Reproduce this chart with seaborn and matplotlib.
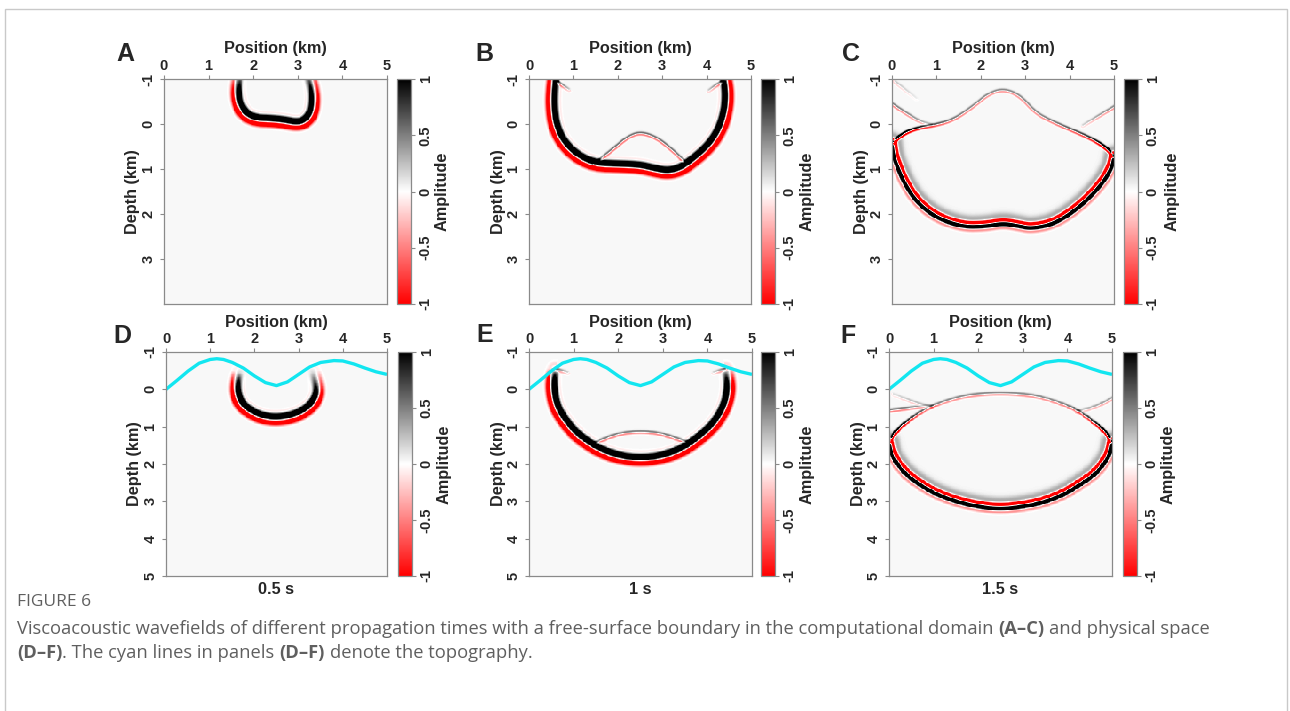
import numpy as np
import matplotlib
matplotlib.use("Agg")
import matplotlib.pyplot as plt
import seaborn as sns
from matplotlib.colors import LinearSegmentedColormap
from matplotlib.patches import Rectangle

# ------------------------------------------------------------------ data
POSITION_TICKS = [0, 1, 2, 3, 4, 5]
DEPTH_TICKS_TOP = [-1, 0, 1, 2, 3]
DEPTH_TICKS_BOTTOM = [-1, 0, 1, 2, 3, 4, 5]
CBAR_TICKS = [-1, -0.5, 0, 0.5, 1]
CBAR_LABELS = ["-1", "-0.5", "0", "0.5", "1"]
PANEL_LETTERS = ["A", "B", "C", "D", "E", "F"]
TIME_LABELS = ["0.5 s", "1 s", "1.5 s"]
BACKGROUND_AMP = 0.03

# topography (cyan line) in physical space
TOPO_X = [0.0, 0.25, 0.5, 0.75, 1.0, 1.15, 1.3, 1.5, 1.75, 2.0, 2.25, 2.5,
          2.75, 3.0, 3.25, 3.5, 3.8, 4.0, 4.25, 4.5, 4.75, 5.0]
TOPO_Z = [0.0, -0.24, -0.49, -0.70, -0.80, -0.82, -0.80, -0.72, -0.57, -0.36,
          -0.18, -0.10, -0.20, -0.40, -0.60, -0.72, -0.77, -0.76, -0.68, -0.57,
          -0.47, -0.40]

# wavefront traces (x km, depth km, relative amplitude)
A_MAIN_X = [1.70, 1.68, 1.69, 1.74, 1.88, 2.10, 2.40, 2.70, 2.95, 3.12, 3.27, 3.31, 3.30, 3.24]
A_MAIN_Z = [-1.00, -0.80, -0.60, -0.40, -0.22, -0.14, -0.13, -0.10, -0.05, -0.08, -0.24, -0.50, -0.75, -1.00]
A_MAIN_W = [0.3, 0.6, 0.9, 1, 1, 1, 1, 1, 1, 1, 1, 0.9, 0.6, 0.3]

B_MAIN_X = [0.60, 0.57, 0.58, 0.62, 0.77, 1.07, 1.48, 2.05, 2.50, 2.80, 3.10, 3.35, 3.56, 4.00, 4.27, 4.40, 4.42, 4.38]
B_MAIN_Z = [-1.00, -0.60, -0.30, 0.00, 0.35, 0.66, 0.86, 0.88, 0.90, 0.97, 1.03, 0.98, 0.86, 0.50, 0.11, -0.32, -0.70, -1.00]
B_MAIN_W = [0.8, 1, 1, 1, 1, 1, 1, 1, 1, 1, 1, 1, 1, 1, 1, 1, 1, 0.8]
B_TENT_X = [1.48, 1.90, 2.20, 2.50, 2.88, 3.25, 3.54]
B_TENT_Z = [0.86, 0.53, 0.28, 0.16, 0.28, 0.57, 0.85]
B_TENT_W = [0.5, 0.55, 0.55, 0.55, 0.55, 0.55, 0.5]
B_CORNER_L_X = [0.63, 0.75, 0.90]
B_CORNER_L_Z = [-0.98, -0.88, -0.78]
B_CORNER_L_W = [0.6, 0.5, 0.2]
B_CORNER_R_X = [4.05, 4.20, 4.36]
B_CORNER_R_Z = [-0.76, -0.87, -0.98]
B_CORNER_R_W = [0.2, 0.45, 0.55]

C_MAIN_X = [0.00, 0.04, 0.13, 0.28, 0.55, 1.00, 1.60, 2.10, 2.50, 2.85, 3.15, 3.70, 4.30, 4.75, 4.95, 5.00]
C_MAIN_Z = [0.42, 0.70, 0.95, 1.30, 1.72, 2.08, 2.28, 2.27, 2.20, 2.26, 2.32, 2.20, 1.78, 1.30, 0.95, 0.72]
C_MAIN_W = [1] * 16
C_UP_X = [0.00, 0.28, 0.65, 1.00, 1.40, 1.85, 2.15, 2.50, 2.88, 3.25, 3.60, 3.90, 4.45, 4.80, 5.00]
C_UP_Z = [0.40, 0.17, 0.05, 0.00, -0.12, -0.43, -0.68, -0.80, -0.66, -0.26, -0.08, 0.05, 0.28, 0.48, 0.70]
C_UP_W = [1.8, 1.3, 0.9, 0.65, 0.5, 0.45, 0.45, 0.45, 0.45, 0.45, 0.5, 0.6, 0.8, 1.2, 1.8]
C_REFL_L_X = [0.00, 0.35, 0.65, 0.90]
C_REFL_L_Z = [-0.47, -0.24, -0.06, 0.00]
C_REFL_L_W = [0.5, 0.45, 0.35, 0.15]
C_REFL_L2_X = [0.08, 0.30, 0.55]
C_REFL_L2_Z = [-0.95, -0.78, -0.58]
C_REFL_L2_W = [0.2, 0.15, 0.05]
C_REFL_R_X = [4.30, 4.61, 5.00]
C_REFL_R_Z = [0.02, -0.17, -0.40]
C_REFL_R_W = [0.15, 0.35, 0.45]

D_MAIN_X = [1.68, 1.64, 1.63, 1.70, 1.83, 2.12, 2.50, 2.92, 3.22, 3.37, 3.40, 3.31]
D_MAIN_Z = [-0.45, -0.25, 0.05, 0.30, 0.48, 0.68, 0.75, 0.66, 0.45, 0.20, -0.05, -0.46]
D_MAIN_W = [0.05, 0.5, 0.95, 1, 1, 1, 1, 1, 1, 0.95, 0.5, 0.05]

E_MAIN_X = [0.60, 0.57, 0.57, 0.62, 0.72, 0.90, 1.10, 1.35, 1.60, 2.00, 2.50, 3.00, 3.40, 3.70, 4.00, 4.20, 4.36, 4.43, 4.44, 4.40]
E_MAIN_Z = [-0.52, -0.30, 0.00, 0.35, 0.62, 0.92, 1.18, 1.40, 1.58, 1.76, 1.83, 1.76, 1.58, 1.35, 1.05, 0.78, 0.43, 0.10, -0.20, -0.52]
E_MAIN_W = [0.1, 0.7, 1, 1, 1, 1, 1, 1, 1, 1, 1, 1, 1, 1, 1, 1, 1, 1, 0.7, 0.1]
E_ARC_X = [1.48, 1.80, 2.10, 2.50, 2.90, 3.20, 3.54]
E_ARC_Z = [1.41, 1.25, 1.15, 1.11, 1.15, 1.25, 1.39]
E_ARC_W = [0.5, 0.5, 0.5, 0.5, 0.5, 0.5, 0.5]
E_CORNER_L_X = [0.58, 0.72, 0.87]
E_CORNER_L_Z = [-0.55, -0.52, -0.46]
E_CORNER_L_W = [0.45, 0.4, 0.15]
E_CORNER_R_X = [4.14, 4.28, 4.40]
E_CORNER_R_Z = [-0.46, -0.52, -0.55]
E_CORNER_R_W = [0.15, 0.4, 0.45]

F_MAIN_X = [0.00, 0.05, 0.17, 0.40, 0.76, 1.10, 1.52, 2.00, 2.49, 3.00, 3.46, 3.90, 4.21, 4.60, 4.83, 4.95, 5.00]
F_MAIN_Z = [1.42, 1.70, 1.96, 2.30, 2.60, 2.82, 3.00, 3.13, 3.19, 3.13, 3.02, 2.82, 2.60, 2.30, 1.96, 1.70, 1.42]
F_MAIN_W = [1] * 17
F_UP_X = [0.00, 0.15, 0.39, 0.75, 1.14, 1.60, 2.00, 2.49, 3.00, 3.40, 3.84, 4.25, 4.59, 4.85, 5.00]
F_UP_Z = [1.38, 1.10, 0.85, 0.55, 0.34, 0.18, 0.11, 0.08, 0.11, 0.18, 0.34, 0.55, 0.85, 1.10, 1.38]
F_UP_W = [1.8, 1.3, 0.9, 0.6, 0.45, 0.45, 0.45, 0.45, 0.45, 0.45, 0.45, 0.6, 0.9, 1.3, 1.8]
F_REFL_L_X = [0.00, 0.35, 0.70, 1.00]
F_REFL_L_Z = [0.55, 0.50, 0.44, 0.42]
F_REFL_L_W = [0.55, 0.5, 0.4, 0.15]
F_REFL_L2_X = [0.10, 0.40, 0.70, 0.95]
F_REFL_L2_Z = [0.12, 0.25, 0.38, 0.44]
F_REFL_L2_W = [0.1, 0.2, 0.25, 0.15]
F_REFL_R_X = [4.20, 4.50, 4.80, 5.00]
F_REFL_R_Z = [0.58, 0.50, 0.35, 0.22]
F_REFL_R_W = [0.15, 0.3, 0.35, 0.35]

CAPTION_TITLE = "FIGURE 6"
CAPTION_LINE1 = [("Viscoacoustic wavefields of different propagation times with a free-surface boundary in the computational domain", False, True),
                 ("(A\u2013C)", True, True), ("and physical space", False, False)]
CAPTION_LINE2 = [("(D\u2013F)", True, False), (". The cyan lines in panels", False, True),
                 ("(D\u2013F)", True, True), ("denote the topography.", False, False)]

# ------------------------------------------------------------------ styling
sns.set_theme(style="white")
plt.rcParams["font.family"] = ["Liberation Sans", "DejaVu Sans"]
plt.rcParams["axes.unicode_minus"] = False

W, H = 1290, 711
DX = 0.02
SPINE = "#8a8a8a"
CYAN = "#12e6f0"
CAP_COLOR = "#5f5f5f"
CAP_FONT = ["Open Sans", "DejaVu Sans"]
TICK_FS = 10.5
LABEL_FS = 11.7
CMAP = LinearSegmentedColormap.from_list("rwk", [(0, "#ff0000"), (0.5, "#ffffff"), (1, "#000000")])


def g(d, mu, s):
    return np.exp(-0.5 * ((d - mu) / s) ** 2)


PROFILES = {
    "young": lambda d: -0.22 * g(d, -0.11, 0.03) + 2.0 * g(d, 0, 0.05) - 1.7 * g(d, 0.135, 0.036) - 0.3 * g(d, 0.19, 0.03),
    "old": lambda d: 0.3 * g(d, -0.17, 0.06) - 2.0 * g(d, -0.08, 0.026) + 2.0 * g(d, 0.01, 0.031) - 0.5 * g(d, 0.09, 0.03),
    "thin": lambda d: 1.0 * g(d, 0, 0.018) - 1.0 * g(d, 0.045, 0.018),
}


def chaikin(x, z, w, n=3):
    P = np.column_stack([x, z, w]).astype(float)
    for _ in range(n):
        Q = 0.75 * P[:-1] + 0.25 * P[1:]
        R = 0.25 * P[:-1] + 0.75 * P[1:]
        mid = np.empty((2 * len(Q), 3))
        mid[0::2] = Q
        mid[1::2] = R
        P = np.vstack([P[:1], mid, P[-1:]])
    return P[:, 0], P[:, 1], P[:, 2]


def front_field(X, Z, xs, zs, ws, prof, kz):
    x, z, w = chaikin(xs, zs, ws)
    z = z * kz
    Zs = Z * kz
    best = np.full(X.shape, np.inf)
    sd = np.zeros(X.shape)
    bw = np.zeros(X.shape)
    for i in range(len(x) - 1):
        bx, bz = x[i + 1] - x[i], z[i + 1] - z[i]
        L2 = bx * bx + bz * bz
        if L2 == 0:
            continue
        px, pz = X - x[i], Zs - z[i]
        t = np.clip((px * bx + pz * bz) / L2, 0, 1)
        ddx, ddz = px - t * bx, pz - t * bz
        dist = np.sqrt(ddx * ddx + ddz * ddz)
        m = dist < best
        cross = bx * pz - bz * px
        best[m] = dist[m]
        sd[m] = np.where(cross[m] >= 0, dist[m], -dist[m])
        bw[m] = (w[i] + t * (w[i + 1] - w[i]))[m]
    return PROFILES[prof](sd) * bw


PANELS = [
    dict(ax=(164, 79, 387, 304), cax=(397, 79, 411, 304), zmax=4, kz=1.0, ticks=DEPTH_TICKS_TOP,
         letter=(125, 54), amp_x=442,
         fronts=[(A_MAIN_X, A_MAIN_Z, A_MAIN_W, "young")]),
    dict(ax=(529, 79, 751, 304), cax=(761, 79, 775, 304), zmax=4, kz=1.0, ticks=DEPTH_TICKS_TOP,
         letter=(484, 54), amp_x=807,
         fronts=[(B_MAIN_X, B_MAIN_Z, B_MAIN_W, "young"), (B_TENT_X, B_TENT_Z, B_TENT_W, "thin"),
                 (B_CORNER_L_X, B_CORNER_L_Z, B_CORNER_L_W, "thin"),
                 (B_CORNER_R_X, B_CORNER_R_Z, B_CORNER_R_W, "thin")]),
    dict(ax=(892, 79, 1114, 304), cax=(1124, 79, 1138, 304), zmax=4, kz=1.0, ticks=DEPTH_TICKS_TOP,
         letter=(851, 54), amp_x=1172,
         fronts=[(C_MAIN_X, C_MAIN_Z, C_MAIN_W, "old"), (C_UP_X, C_UP_Z, C_UP_W, "thin"),
                 (C_REFL_L_X, C_REFL_L_Z, C_REFL_L_W, "thin"),
                 (C_REFL_L2_X, C_REFL_L2_Z, C_REFL_L2_W, "thin"),
                 (C_REFL_R_X, C_REFL_R_Z, C_REFL_R_W, "thin")]),
    dict(ax=(166, 352, 387, 576), cax=(398, 352, 412, 576), zmax=5, kz=0.84, ticks=DEPTH_TICKS_BOTTOM,
         letter=(122, 336), amp_x=444, time=TIME_LABELS[0],
         fronts=[(D_MAIN_X, D_MAIN_Z, D_MAIN_W, "young")]),
    dict(ax=(529, 352, 752, 576), cax=(761, 352, 775, 576), zmax=5, kz=0.84, ticks=DEPTH_TICKS_BOTTOM,
         letter=(485, 335), amp_x=807, time=TIME_LABELS[1],
         fronts=[(E_MAIN_X, E_MAIN_Z, E_MAIN_W, "young"), (E_ARC_X, E_ARC_Z, E_ARC_W, "thin"),
                 (E_CORNER_L_X, E_CORNER_L_Z, E_CORNER_L_W, "thin"),
                 (E_CORNER_R_X, E_CORNER_R_Z, E_CORNER_R_W, "thin")]),
    dict(ax=(889, 352, 1112, 576), cax=(1123, 352, 1137, 576), zmax=5, kz=0.84, ticks=DEPTH_TICKS_BOTTOM,
         letter=(848, 336), amp_x=1168, time=TIME_LABELS[2],
         fronts=[(F_MAIN_X, F_MAIN_Z, F_MAIN_W, "old"), (F_UP_X, F_UP_Z, F_UP_W, "thin"),
                 (F_REFL_L_X, F_REFL_L_Z, F_REFL_L_W, "thin"),
                 (F_REFL_L2_X, F_REFL_L2_Z, F_REFL_L2_W, "thin"),
                 (F_REFL_R_X, F_REFL_R_Z, F_REFL_R_W, "thin")]),
]

fig = plt.figure(figsize=(W / 100, H / 100), dpi=100)
fig.patch.set_facecolor("white")


def rect(x0, y0, x1, y1):
    return [x0 / W, 1 - y1 / H, (x1 - x0) / W, (y1 - y0) / H]


def ptext(x, y, s, **kw):
    kw.setdefault("ha", "center")
    kw.setdefault("va", "center")
    return fig.text(x / W, 1 - y / H, s, **kw)


# outer frame
fig.add_artist(Rectangle((5 / W, -0.1), (1287 - 5) / W, 1.1 - 9 / H, transform=fig.transFigure,
                         fill=False, edgecolor="#c9c9c9", lw=1.0))

nx = int(round(5 / DX))
xc = (np.arange(nx) + 0.5) * DX

for i, p in enumerate(PANELS):
    nz = int(round((p["zmax"] + 1) / DX))
    zc = -1 + (np.arange(nz) + 0.5) * DX
    X, Z = np.meshgrid(xc, zc)
    field = np.full(X.shape, BACKGROUND_AMP)
    for fx_, fz_, fw_, prof in p["fronts"]:
        field += front_field(X, Z, fx_, fz_, fw_, prof, p["kz"])
    field = np.clip(field, -1, 1)

    ax = fig.add_axes(rect(*p["ax"]))
    cax = fig.add_axes(rect(*p["cax"]))
    sns.heatmap(field, ax=ax, cmap=CMAP, vmin=-1, vmax=1, cbar_ax=cax,
                xticklabels=False, yticklabels=False, rasterized=True)

    for sp in ax.spines.values():
        sp.set_visible(True)
        sp.set_color(SPINE)
        sp.set_linewidth(0.9)

    ax.set_xticks(np.array(POSITION_TICKS) / DX)
    ax.set_xticklabels([str(t) for t in POSITION_TICKS], fontsize=TICK_FS, fontweight="bold")
    ax.set_yticks((np.array(p["ticks"]) + 1) / DX)
    ax.set_yticklabels([str(t) for t in p["ticks"]], fontsize=TICK_FS, fontweight="bold",
                       rotation=90, va="center")
    ax.tick_params(axis="x", top=True, bottom=False, labeltop=True, labelbottom=False,
                   length=3, width=0.8, color=SPINE, pad=1.2)
    ax.tick_params(axis="y", left=True, length=3, width=0.8, color=SPINE, pad=3.2)

    if "time" in p:
        ax.plot(np.array(TOPO_X) / DX, (np.array(TOPO_Z) + 1) / DX, color=CYAN, lw=2.4,
                solid_capstyle="butt")

    cb = ax.collections[0].colorbar
    cb.outline.set_linewidth(0.9)
    cb.outline.set_edgecolor(SPINE)
    cb.set_ticks(CBAR_TICKS)
    cb.set_ticklabels(CBAR_LABELS)
    cax.tick_params(axis="y", right=True, length=3, width=0.8, color=SPINE, pad=2.5, labelsize=TICK_FS)
    for t in cax.get_yticklabels():
        t.set_rotation(90)
        t.set_va("center")
        t.set_fontweight("bold")

    x0, y0, x1, y1 = p["ax"]
    cxm = (x0 + x1) / 2
    cym = (y0 + y1) / 2
    ptext(cxm, y0 - 30, "Position (km)", fontsize=LABEL_FS, fontweight="bold")
    ptext(x0 - 31, cym, "Depth (km)", fontsize=LABEL_FS, fontweight="bold", rotation=90)
    ptext(p["amp_x"], cym, "Amplitude", fontsize=LABEL_FS, fontweight="bold", rotation=90)
    ptext(p["letter"][0], p["letter"][1], PANEL_LETTERS[i], fontsize=18, fontweight="bold")
    if "time" in p:
        ptext(cxm, y1 + 13.5, p["time"], fontsize=LABEL_FS, fontweight="bold")

# caption
renderer = fig.canvas.get_renderer()


def text_width(s, size, weight):
    t = fig.text(0, 0, s, fontsize=size, fontweight=weight, family=CAP_FONT)
    w = t.get_window_extent(renderer).width
    t.remove()
    return w


CAP_SIZE = 13.2
SPACE_W = text_width("a a", CAP_SIZE, "normal") - text_width("aa", CAP_SIZE, "normal")

ptext(17, 602, CAPTION_TITLE, ha="left", fontsize=12.5, color=CAP_COLOR, family=CAP_FONT)


def caption_line(pieces, y):
    x = 17.0
    for s, bold, space_after in pieces:
        t = ptext(x, y, s, ha="left", fontsize=CAP_SIZE, fontweight="bold" if bold else "normal",
                  color=CAP_COLOR, family=CAP_FONT)
        x = t.get_window_extent(renderer).x1 + (SPACE_W if space_after else 0)


caption_line(CAPTION_LINE1, 629)
caption_line(CAPTION_LINE2, 653)

fig.savefig("out.png", dpi=100)
